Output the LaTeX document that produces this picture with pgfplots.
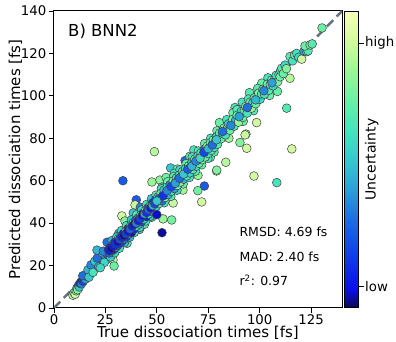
\documentclass[border=0pt]{standalone}
\usepackage{fontspec}
\setmainfont{DejaVu Sans}
\usepackage{pgfplots}
\usepackage{pgfplotstable}
\pgfplotsset{compat=1.18}

\pgfplotstableread{
x y c
9.2 6.0 0.85
9.8 7.2 0.8
10.3 6.5 0.9
10.8 8.1 0.7
11.2 9.5 0.45
11.5 8.6 0.75
12.0 10.8 0.3
12.3 9.9 0.5
12.7 11.6 0.15
13.1 12.2 0.1
13.4 11.4 0.35
13.8 13.0 0.08
14.2 12.6 0.2
14.5 13.9 0.05
14.9 14.3 0.12
15.2 13.6 0.4
15.6 15.1 0.04
16.0 15.7 0.1
16.3 14.9 0.25
16.7 16.4 0.06
17.1 16.0 0.15
17.4 17.3 0.03
17.8 17.0 0.2
18.2 18.1 0.08
18.5 17.5 0.3
18.9 19.0 0.05
19.3 18.4 0.12
19.6 19.8 0.04
20.0 19.3 0.18
20.4 20.6 0.07
20.8 20.0 0.25
21.2 21.3 0.05
21.5 20.5 0.35
21.9 22.2 0.1
22.3 21.6 0.06
22.7 23.1 0.15
23.0 22.0 0.4
23.4 23.8 0.08
23.8 22.9 0.2
24.2 24.6 0.05
24.6 23.7 0.3
25.0 25.3 0.12
25.3 24.1 0.45
25.7 26.0 0.07
26.1 25.0 0.25
14.0 15.2 0.3
16.5 18.0 0.45
18.0 20.3 0.35
19.8 22.0 0.5
21.0 23.5 0.3
23.5 26.0 0.4
17.0 14.5 0.5
19.0 16.8 0.6
21.8 19.5 0.45
24.5 21.5 0.55
20.9 27.3 0.45
25.8 31.0 0.3
28.7 22.6 0.85
29.2 19.8 0.7
27.5 24.0 0.5
24.0 26.8 0.35
22.5 19.0 0.55
33.5 60.0 0.25
40.0 51.0 0.25
39.4 48.6 0.88
33.0 43.4 0.9
34.5 41.0 0.75
36.0 33.0 0.55
35.5 30.5 0.6
41.5 37.0 0.5
44.0 39.5 0.65
47.5 42.8 0.55
53.0 42.0 0.8
57.2 41.5 0.72
38.5 44.8 0.5
31.5 35.2 0.4
42.0 47.5 0.35
28.2 31.8 0.45
30.5 33.5 0.5
32.8 36.5 0.55
35.2 38.8 0.6
37.6 41.5 0.5
40.2 44.0 0.65
42.6 46.2 0.55
45.0 48.8 0.6
47.4 51.5 0.5
49.6 53.2 0.65
29.5 26.0 0.55
31.8 28.2 0.6
34.2 30.8 0.5
36.8 33.4 0.45
39.0 35.6 0.6
41.6 38.0 0.55
44.6 41.0 0.6
46.8 43.2 0.5
49.0 45.4 0.65
26.5 27.4 0.05
26.9 25.9 0.3
27.3 28.5 0.15
27.7 26.6 0.5
28.1 29.0 0.08
28.5 27.3 0.2
28.9 30.2 0.35
29.3 28.0 0.04
29.7 31.0 0.12
30.1 28.7 0.45
30.5 30.8 0.06
30.9 29.4 0.25
31.3 32.6 0.55
31.7 30.6 0.1
32.1 31.8 0.03
32.5 33.9 0.4
32.9 31.2 0.18
33.3 32.9 0.6
33.7 35.0 0.08
34.1 32.4 0.3
34.5 34.2 0.05
34.9 36.3 0.5
35.3 33.8 0.15
35.7 35.6 0.65
36.1 37.5 0.1
36.5 34.9 0.4
36.9 36.8 0.2
37.3 38.9 0.55
37.7 35.7 0.04
38.1 37.9 0.3
38.5 40.1 0.7
38.9 37.2 0.12
39.3 39.1 0.45
39.7 41.3 0.25
40.1 38.6 0.6
40.5 40.4 0.06
40.9 42.4 0.35
41.3 39.6 0.5
41.7 41.6 0.15
42.1 43.7 0.65
42.5 40.7 0.2
42.9 42.8 0.4
43.3 44.6 0.08
43.7 41.9 0.55
44.1 44.0 0.3
44.5 46.0 0.7
44.9 43.1 0.1
45.3 45.3 0.45
45.7 47.2 0.25
46.1 44.3 0.6
46.5 46.4 0.05
46.9 48.5 0.5
47.3 45.4 0.35
47.7 47.6 0.65
48.1 49.6 0.15
48.5 46.6 0.4
48.9 48.8 0.75
49.3 50.9 0.2
49.7 47.8 0.55
50.1 50.0 0.3
63.7 69.5 0.3
56.7 66.0 0.5
51.5 60.3 0.78
47.6 59.4 0.8
52.5 57.0 0.5
62.7 55.6 0.82
57.9 49.5 0.88
73.1 57.5 0.25
71.8 50.0 0.9
69.9 55.3 0.72
79.0 64.6 0.88
79.1 65.0 0.75
83.5 68.7 0.85
60.0 65.5 0.7
66.0 71.5 0.65
70.0 62.5 0.78
76.0 71.0 0.7
58.5 63.5 0.6
54.5 61.5 0.72
68.0 74.5 0.6
48.8 73.7 0.85
52.2 56.2 0.6
55.2 59.5 0.7
58.2 62.0 0.65
61.2 65.2 0.55
64.2 68.0 0.7
67.2 71.2 0.6
70.2 74.0 0.65
73.2 77.5 0.7
76.2 80.0 0.6
79.2 83.5 0.7
53.6 49.6 0.6
56.8 52.6 0.65
59.8 55.5 0.55
62.8 58.5 0.7
65.8 61.5 0.6
68.8 64.5 0.65
71.8 67.5 0.7
74.8 70.5 0.6
77.8 73.5 0.65
50.5 52.3 0.55
51.0 49.2 0.65
51.5 51.8 0.4
52.0 54.0 0.7
52.5 50.5 0.3
53.0 53.1 0.6
53.5 55.6 0.5
54.0 52.1 0.75
54.5 54.4 0.2
55.0 57.0 0.6
55.5 53.5 0.45
56.0 56.3 0.7
56.5 58.2 0.35
57.0 55.0 0.6
57.5 57.6 0.5
58.0 59.9 0.75
58.5 56.3 0.4
59.0 59.1 0.65
59.5 61.3 0.55
60.0 57.8 0.7
60.5 60.6 0.3
61.0 62.7 0.6
61.5 59.4 0.8
62.0 62.0 0.5
62.5 64.3 0.65
63.0 60.7 0.45
63.5 63.4 0.7
64.0 65.8 0.55
64.5 62.2 0.6
65.0 65.0 0.35
65.5 67.1 0.7
66.0 63.7 0.55
66.5 66.4 0.75
67.0 68.6 0.5
67.5 65.3 0.65
68.0 68.2 0.4
68.5 70.3 0.7
69.0 66.8 0.6
69.5 69.5 0.8
70.0 71.8 0.55
70.5 68.2 0.7
71.0 71.1 0.45
71.5 73.2 0.65
72.0 69.9 0.75
72.5 72.6 0.6
73.0 74.8 0.3
73.5 71.2 0.7
74.0 74.1 0.55
74.5 76.3 0.8
75.0 72.8 0.6
75.5 75.6 0.5
76.0 77.8 0.7
76.5 74.3 0.65
77.0 77.1 0.4
77.5 79.2 0.75
78.0 75.7 0.6
78.5 78.6 0.7
79.0 80.7 0.55
79.5 77.2 0.65
80.0 80.1 0.5
80.4 87.4 0.7
93.3 82.0 0.8
90.4 78.0 0.75
93.7 75.3 0.9
97.2 62.2 0.9
108.3 59.1 0.6
98.5 87.4 0.9
101.0 106.0 0.7
113.1 94.2 0.65
92.9 81.6 0.88
88.0 94.5 0.6
95.0 101.5 0.65
85.0 80.0 0.8
87.0 92.0 0.7
91.5 97.0 0.6
115.6 75.0 0.9
114.7 108.3 0.85
108.6 102.1 0.7
84.0 88.8 0.6
89.0 93.5 0.65
94.5 98.5 0.6
99.0 103.5 0.65
104.0 108.5 0.6
92.0 88.0 0.7
97.0 93.0 0.65
104.8 100.2 0.7
80.5 82.5 0.65
81.2 79.8 0.7
82.0 82.3 0.55
82.7 84.8 0.75
83.4 81.6 0.6
84.1 84.5 0.8
84.8 86.8 0.5
85.5 83.8 0.7
86.2 86.5 0.6
86.9 88.9 0.75
87.6 85.7 0.65
88.3 88.6 0.45
89.0 90.8 0.7
89.7 87.6 0.8
90.4 90.6 0.6
91.1 92.7 0.55
91.8 89.8 0.7
92.5 92.9 0.65
93.2 95.0 0.75
93.9 91.9 0.6
94.6 94.7 0.5
95.3 97.0 0.7
96.0 94.2 0.8
96.7 96.9 0.55
97.4 99.1 0.65
98.1 96.3 0.7
98.8 98.9 0.6
99.5 101.3 0.75
100.2 98.4 0.55
100.9 100.9 0.65
101.6 103.1 0.7
102.3 100.8 0.6
103.0 103.2 0.5
103.7 105.5 0.7
104.4 102.6 0.65
105.1 105.3 0.6
105.8 107.4 0.75
106.5 104.7 0.55
107.2 107.6 0.7
108.0 109.7 0.6
108.7 106.6 0.75
109.4 110.1 0.65
109.9 109.0 0.7
110.2 112.0 0.6
110.7 113.0 0.65
111.5 110.5 0.7
112.3 114.5 0.55
113.0 112.8 0.75
114.7 118.5 0.65
116.0 116.5 0.6
117.0 119.3 0.7
118.0 120.0 0.6
119.0 118.2 0.55
120.4 117.3 0.9
121.5 121.0 0.4
122.8 120.8 0.5
123.5 121.2 0.65
122.0 123.5 0.7
124.5 124.0 0.7
125.5 124.5 0.65
130.3 132.0 0.7
82.0 83.2 0.3
86.0 86.0 0.35
90.0 90.2 0.4
94.0 94.5 0.3
98.0 98.1 0.45
102.0 102.4 0.35
106.0 106.2 0.4
51.0 51.5 0.25
53.0 52.8 0.15
55.0 55.3 0.35
57.0 57.2 0.2
59.0 58.8 0.4
61.0 61.2 0.3
63.0 63.1 0.5
65.0 65.4 0.25
67.0 66.8 0.45
69.0 69.2 0.35
71.0 70.6 0.55
73.0 73.3 0.2
75.0 75.1 0.45
77.0 76.8 0.3
79.0 79.3 0.5
27.0 27.0 0.1
28.0 28.3 0.02
29.0 29.1 0.08
30.0 30.0 0.15
31.0 31.3 0.05
32.0 32.4 0.22
33.0 33.5 0.1
34.0 34.2 0.03
35.0 35.0 0.18
36.0 36.3 0.07
37.0 37.2 0.28
38.0 38.6 0.12
39.0 39.4 0.05
40.0 40.0 0.33
41.0 41.2 0.1
42.0 42.3 0.2
43.0 43.5 0.06
44.0 44.3 0.4
45.0 45.0 0.15
46.0 46.4 0.3
47.0 47.1 0.09
48.0 48.3 0.45
49.0 49.2 0.2
50.0 50.4 0.5
52.5 35.5 0.03
50.0 44.0 0.05
}\scatterdata

\begin{document}
\begin{tikzpicture}
\begin{axis}[
  at={(0,0)}, anchor=south west,
  scale only axis, width=288pt, height=297pt,
  xmin=0, xmax=140, ymin=0, ymax=140,
  xtick={0,25,50,75,100,125}, ytick={0,20,40,60,80,100,120,140},
  tick align=outside, tick pos=left, major tick length=5pt,
  tick style={line width=0.8pt, black},
  axis line style={line width=1pt},
  /pgf/number format/assume math mode=true,
  ticklabel style={font=\fontsize{13.3}{14}\selectfont},
  xticklabel style={inner sep=1.5pt},
  yticklabel style={inner sep=2.5pt},
  xlabel={True dissociation times [fs]},
  ylabel={Predicted dissociation times [fs]},
  label style={font=\fontsize{15}{16}\selectfont, inner sep=0pt},
  xlabel style={at={(axis description cs:0.5,-0.1)}, anchor=base},
  ylabel style={at={(axis description cs:-0.118,0.5)}, anchor=base},
  colormap={unc}{rgb255(0cm)=(10,10,85); rgb255(0.6cm)=(10,15,235); rgb255(2cm)=(20,70,235); rgb255(3cm)=(30,110,225); rgb255(4cm)=(45,160,215); rgb255(5cm)=(55,200,205); rgb255(6cm)=(70,228,188); rgb255(7cm)=(105,240,165); rgb255(8cm)=(155,246,150); rgb255(9cm)=(210,250,160); rgb255(10cm)=(245,255,185)},
  point meta min=0, point meta max=1,
  colorbar,
  colorbar style={
    at={(parent axis.north east)}, anchor=north west, xshift=-6pt, yshift=-1pt,
    scale only axis, width=14pt, height=295pt,
    ytick={0.07,0.895}, yticklabels={low,high},
    ytick pos=right, yticklabel pos=right,
    tick align=outside, major tick length=5pt,
    tick style={line width=0.8pt, black},
    axis line style={line width=1pt},
    ticklabel style={font=\fontsize{13.3}{14}\selectfont, inner sep=1.5pt},
    ylabel={Uncertainty},
    ylabel style={at={(axis description cs:1.45,0.5)}, anchor=north, inner sep=0pt, font=\fontsize{14}{15}\selectfont},
  },
]
\addplot[draw={rgb,255:red,100;green,115;blue,125}, line width=2.5pt, dash pattern=on 9pt off 5pt, forget plot] coordinates {(0,0) (140,140)};
\addplot[scatter, only marks, mark=*, mark size=4.4pt, scatter src=explicit,
  scatter/use mapped color={draw=black!75, fill=mapped color},
  mark options={line width=0.5pt}] table[x=x, y=y, meta=c] {\scatterdata};
\node[anchor=base west, inner sep=0pt, font=\fontsize{16.5}{18}\selectfont] at (axis cs:6.8,127.8) {B) BNN2};
\node[anchor=base west, inner sep=0pt, font=\fontsize{12.5}{14}\selectfont] at (axis cs:90.1,33.6) {RMSD: 4.69 fs};
\node[anchor=base west, inner sep=0pt, font=\fontsize{12.5}{14}\selectfont] at (axis cs:90.1,21.8) {MAD: 2.40 fs};
\node[anchor=base west, inner sep=0pt, font=\fontsize{12.5}{14}\selectfont] at (axis cs:90.1,10.4) {r\textsuperscript{2}: 0.97};
\end{axis}
\pgfresetboundingbox
\useasboundingbox (-54pt,-34pt) rectangle (342pt,308pt);
\end{tikzpicture}
\end{document}
